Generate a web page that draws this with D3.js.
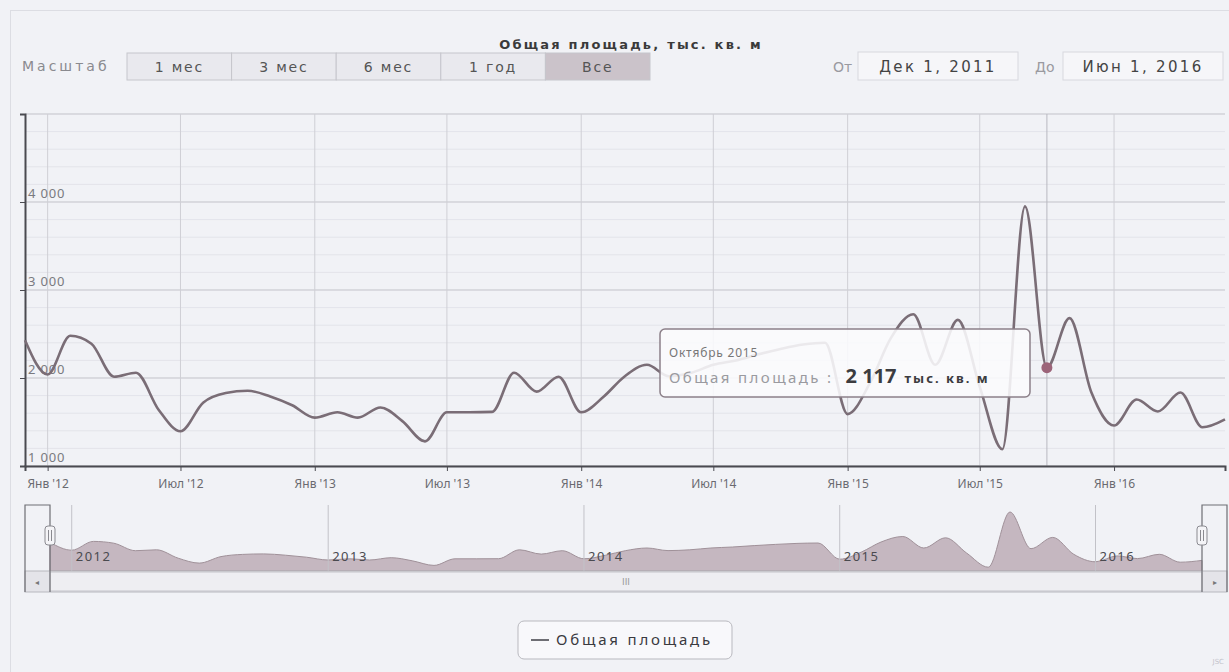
<!DOCTYPE html>
<html>
<head>
<meta charset="utf-8">
<script src="https://cdn.jsdelivr.net/npm/d3@7"></script>
<style>
    body { margin: 0; background: #f1f2f6; font-family: "DejaVu Sans", "Noto Sans", sans-serif; }
    svg { display: block; }
</style>
</head>
<body>
<div id="chart"></div>
<script>
// Данные: общая площадь, тыс. кв. м, помесячно (дек 2011 – июн 2016)
const firstMonth = new Date(2011, 11, 1);
const lastMonth = new Date(2016, 5, 1);
const values = [
    2430,
    2040, 2480, 2390, 2015, 2060, 1640, 1395, 1720, 1830, 1855, 1790, 1690,
    1550, 1610, 1550, 1665, 1510, 1280, 1610, 1610, 1615, 2060, 1845, 2015,
    1610, 1790, 2015, 2150, 2020, 2060, 2150, 2200, 2270, 2330, 2380, 2400,
    1590, 1950, 2450, 2725, 2150, 2660, 1900, 1190, 3950, 2117, 2680, 1835,
    1460, 1755, 1620, 1835, 1440, 1530
];
const monthShort = ["Янв", "Фев", "Мар", "Апр", "Май", "Июн", "Июл", "Авг", "Сен", "Окт", "Ноя", "Дек"];
const monthFull = ["Январь", "Февраль", "Март", "Апрель", "Май", "Июнь", "Июль", "Август", "Сентябрь", "Октябрь", "Ноябрь", "Декабрь"];
const yTicks = [1000, 2000, 3000, 4000, 5000];
const rangeButtons = ["1 мес", "3 мес", "6 мес", "1 год", "Все"];
const selectedButton = "Все";
const seriesName = "Общая площадь";
const unit = "тыс. кв. м";
const tooltipIndex = 46; // октябрь 2015

const months = d3.timeMonth.range(firstMonth, d3.timeMonth.offset(lastMonth, 1));
const data = months.map((d, i) => ({ date: d, value: values[i] }));

const W = 1229, H = 672;
const plot = { left: 25, right: 1225, top: 114, bottom: 466 };
const nav = { left: 50, right: 1202, top: 505, bottom: 571, sbBottom: 592 };
const numFmt = v => d3.format(",")(v).replace(/,/g, " ");

const svg = d3.select("#chart").append("svg")
    .attr("width", W)
    .attr("height", H);

// рамка контейнера
svg.append("rect")
    .attr("x", 10.5).attr("y", 10.5)
    .attr("width", W).attr("height", H)
    .attr("fill", "none").attr("stroke", "#dcdde3");

// заголовок
svg.append("text")
    .attr("x", 631).attr("y", 49)
    .attr("text-anchor", "middle")
    .attr("font-size", 13).attr("font-weight", "bold")
    .attr("letter-spacing", 2.2)
    .attr("fill", "#3a3a3a")
    .text(`${seriesName}, ${unit}`);

// ----------------- Переключатель масштаба -----------------
svg.append("text")
    .attr("x", 22).attr("y", 71)
    .attr("font-size", 14).attr("letter-spacing", 3)
    .attr("fill", "#8a8a8f")
    .text("Масштаб");

const btnX = d3.scaleBand().domain(rangeButtons).range([127, 650]);
const btn = svg.append("g").selectAll("g")
    .data(rangeButtons)
    .join("g")
    .attr("transform", d => `translate(${btnX(d)},53)`);

btn.append("rect")
    .attr("width", btnX.bandwidth()).attr("height", 27)
    .attr("fill", d => d === selectedButton ? "#cbc3ca" : "#e9e9ee")
    .attr("stroke", "#c6c6cc");

btn.append("text")
    .attr("x", btnX.bandwidth() / 2).attr("y", 19)
    .attr("text-anchor", "middle")
    .attr("font-size", 14).attr("letter-spacing", 1.8)
    .attr("fill", "#555")
    .text(d => d);

// поля дат
const fmtInput = d => `${monthShort[d.getMonth()]} 1, ${d.getFullYear()}`;
const inputs = [
    { label: "От", date: firstMonth, lx: 833, bx: 858 },
    { label: "До", date: lastMonth, lx: 1035, bx: 1063 }
];
const inp = svg.append("g").selectAll("g").data(inputs).join("g");
inp.append("text")
    .attr("x", d => d.lx).attr("y", 72)
    .attr("font-size", 14).attr("fill", "#9a9aa0")
    .text(d => d.label);
inp.append("rect")
    .attr("x", d => d.bx).attr("y", 52)
    .attr("width", 160).attr("height", 28)
    .attr("fill", "#f6f6f9").attr("stroke", "#d8d8de");
inp.append("text")
    .attr("x", d => d.bx + 80).attr("y", 72)
    .attr("text-anchor", "middle")
    .attr("font-size", 15).attr("letter-spacing", 2.3)
    .attr("fill", "#444")
    .text(d => fmtInput(d.date));

// ----------------- Основной график -----------------
const x = d3.scaleTime()
    .domain([firstMonth, lastMonth])
    .range([plot.left, plot.right]);

const y = d3.scaleLinear()
    .domain([1000, 5000])
    .range([plot.bottom, plot.top]);

const grid = svg.append("g");

// второстепенная сетка
grid.selectAll("line.minor")
    .data(d3.range(1000, 5001, 200))
    .join("line")
    .attr("class", "minor")
    .attr("x1", plot.left).attr("x2", plot.right)
    .attr("y1", d => y(d)).attr("y2", d => y(d))
    .attr("stroke", "#e3e4ea");

// основная сетка
grid.selectAll("line.major")
    .data(yTicks)
    .join("line")
    .attr("class", "major")
    .attr("x1", plot.left).attr("x2", plot.right)
    .attr("y1", d => y(d)).attr("y2", d => y(d))
    .attr("stroke", "#c9c9cf");

const xTicks = d3.timeMonth.every(6).range(firstMonth, lastMonth).filter(d => d > firstMonth);
grid.selectAll("line.vert")
    .data(xTicks)
    .join("line")
    .attr("class", "vert")
    .attr("x1", d => x(d)).attr("x2", d => x(d))
    .attr("y1", plot.top).attr("y2", plot.bottom)
    .attr("stroke", "#cfcfd5");

// перекрестие подсказки
const tipD = data[tooltipIndex];
grid.append("line")
    .attr("x1", x(tipD.date)).attr("x2", x(tipD.date))
    .attr("y1", plot.top).attr("y2", plot.bottom)
    .attr("stroke", "#b9b9c0");

// ось X
const xAxis = d3.axisBottom(x)
    .tickValues(xTicks)
    .tickSize(5)
    .tickFormat(d => `${monthShort[d.getMonth()]} '${String(d.getFullYear()).slice(2)}`);

svg.append("g")
    .attr("transform", `translate(0,${plot.bottom})`)
    .call(xAxis)
    .call(g => g.select(".domain").attr("stroke", "#4a4a50").attr("stroke-width", 2))
    .call(g => g.selectAll(".tick line").attr("stroke", "#4a4a50"))
    .call(g => g.selectAll(".tick text")
        .attr("font-size", 12).attr("fill", "#6a6a70")
        .attr("font-family", "'Noto Sans', sans-serif")
        .attr("dy", "1.2em"));

// ось Y
const yAxis = d3.axisLeft(y)
    .tickValues(yTicks)
    .tickSize(5)
    .tickFormat(d => d === 5000 ? "" : numFmt(d));

svg.append("g")
    .attr("transform", `translate(${plot.left},0)`)
    .call(yAxis)
    .call(g => g.select(".domain").attr("stroke", "#4a4a50").attr("stroke-width", 2))
    .call(g => g.selectAll(".tick line").attr("stroke", "#4a4a50"))
    .call(g => g.selectAll(".tick text")
        .attr("text-anchor", "start")
        .attr("x", 3).attr("dy", -5)
        .attr("font-size", 13).attr("letter-spacing", 0.8)
        .attr("fill", "#7a7a80")
        .attr("font-family", "'Noto Sans', sans-serif"));

// линия ряда
const line = d3.line()
    .x(d => x(d.date))
    .y(d => y(d.value))
    .curve(d3.curveMonotoneX);

svg.append("path")
    .datum(data)
    .attr("fill", "none")
    .attr("stroke", "#7a6d76")
    .attr("stroke-width", 2.6)
    .attr("d", line);

// ----------------- Подсказка -----------------
const tip = svg.append("g").attr("transform", "translate(660,329)");
tip.append("rect")
    .attr("width", 370).attr("height", 68)
    .attr("rx", 5)
    .attr("fill", "#fbfbfd").attr("fill-opacity", 0.88)
    .attr("stroke", "#8c8089").attr("stroke-width", 1.5);
tip.append("text")
    .attr("x", 9).attr("y", 28)
    .attr("font-size", 12).attr("letter-spacing", 0.8)
    .attr("font-family", "'Noto Sans', sans-serif")
    .attr("fill", "#777")
    .text(`${monthFull[tipD.date.getMonth()]} ${tipD.date.getFullYear()}`);
const tipLine = tip.append("text")
    .attr("x", 9).attr("y", 54)
    .attr("font-size", 15).attr("fill", "#9a9aa0")
    .attr("font-family", "'Noto Sans', sans-serif");
tipLine.append("tspan")
    .attr("letter-spacing", 2.4)
    .text(`${seriesName} :`);
tipLine.append("tspan")
    .attr("font-weight", "bold").attr("font-size", 20).attr("fill", "#3c3c40")
    .attr("dx", 12)
    .text(numFmt(tipD.value));
tipLine.append("tspan")
    .attr("font-weight", "bold").attr("font-size", 13).attr("fill", "#3c3c40")
    .attr("letter-spacing", 2)
    .attr("dx", 8)
    .text(unit);

svg.append("circle")
    .attr("cx", x(tipD.date)).attr("cy", y(tipD.value))
    .attr("r", 5.5)
    .attr("fill", "#9c6479");

// ----------------- Навигатор -----------------
const nx = d3.scaleTime()
    .domain([firstMonth, lastMonth])
    .range([nav.left, nav.right]);

const ny = d3.scaleLinear()
    .domain([1000, 4300])
    .range([nav.bottom, nav.top]);

const area = d3.area()
    .x(d => nx(d.date))
    .y0(nav.bottom)
    .y1(d => ny(d.value))
    .curve(d3.curveMonotoneX);

svg.append("path")
    .datum(data)
    .attr("fill", "#c5b7c0")
    .attr("stroke", "#a09199")
    .attr("d", area);

const years = d3.timeYear.range(d3.timeYear.ceil(firstMonth), lastMonth);
const navYears = svg.append("g").selectAll("g").data(years).join("g");
navYears.append("line")
    .attr("x1", d => nx(d)).attr("x2", d => nx(d))
    .attr("y1", nav.top).attr("y2", nav.bottom)
    .attr("stroke", "#c2c2c8");
navYears.append("text")
    .attr("x", d => nx(d) + 4).attr("y", 561)
    .attr("font-size", 13).attr("letter-spacing", 1.5)
    .attr("font-family", "'Noto Sans', sans-serif")
    .attr("fill", "#4a4a4f")
    .text(d => d.getFullYear());

// скроллбар
svg.append("rect")
    .attr("x", plot.left).attr("y", nav.bottom)
    .attr("width", plot.right - plot.left + 2).attr("height", nav.sbBottom - nav.bottom)
    .attr("fill", "#e4e4e9").attr("stroke", "#b8b8be");
svg.append("rect")
    .attr("x", nav.left).attr("y", nav.bottom + 1)
    .attr("width", nav.right - nav.left).attr("height", nav.sbBottom - nav.bottom - 2)
    .attr("fill", "#eeeef2").attr("stroke", "#c4c4ca");
svg.append("text")
    .attr("x", (nav.left + nav.right) / 2).attr("y", nav.bottom + 14)
    .attr("text-anchor", "middle")
    .attr("font-size", 9).attr("fill", "#999")
    .text("III");
[plot.left + 12, plot.right - 10].forEach((cx, i) => {
    svg.append("text")
        .attr("x", cx).attr("y", nav.bottom + 14)
        .attr("text-anchor", "middle")
        .attr("font-size", 8).attr("fill", "#777")
        .text(i === 0 ? "◂" : "▸");
});

// контур навигатора и ручки
svg.append("path")
    .attr("fill", "none").attr("stroke", "#6e6e74").attr("stroke-width", 1.2)
    .attr("d", `M${plot.left},${nav.sbBottom}V${nav.top}H${nav.left}V${nav.sbBottom}
                M${nav.right},${nav.sbBottom}V${nav.top}H${plot.right + 2}V${nav.sbBottom}`);

[nav.left, nav.right].forEach(hx => {
    const h = svg.append("g").attr("transform", `translate(${hx},${nav.top + 30})`);
    h.append("rect")
        .attr("x", -5).attr("y", -9)
        .attr("width", 10).attr("height", 19)
        .attr("rx", 3)
        .attr("fill", "#f4f4f7").attr("stroke", "#8a8a90");
    h.append("path")
        .attr("stroke", "#8a8a90")
        .attr("d", "M-1.5,-5V6M1.5,-5V6");
});

// ----------------- Легенда -----------------
const legend = svg.append("g").attr("transform", "translate(518,621)");
legend.append("rect")
    .attr("width", 214).attr("height", 38)
    .attr("rx", 6)
    .attr("fill", "#f8f8fb").attr("stroke", "#b9b9bf");
legend.append("line")
    .attr("x1", 13).attr("x2", 31)
    .attr("y1", 19).attr("y2", 19)
    .attr("stroke", "#6e6e74").attr("stroke-width", 2);
legend.append("text")
    .attr("x", 38).attr("y", 24)
    .attr("font-size", 15).attr("letter-spacing", 2.8)
    .attr("font-family", "'Noto Sans', sans-serif")
    .attr("fill", "#3a3a3f")
    .text(seriesName);

// подпись в углу
svg.append("text")
    .attr("x", 1224).attr("y", 664)
    .attr("text-anchor", "end")
    .attr("font-size", 7).attr("fill", "#c3c3ca")
    .text("JSC");
</script>
</body>
</html>
